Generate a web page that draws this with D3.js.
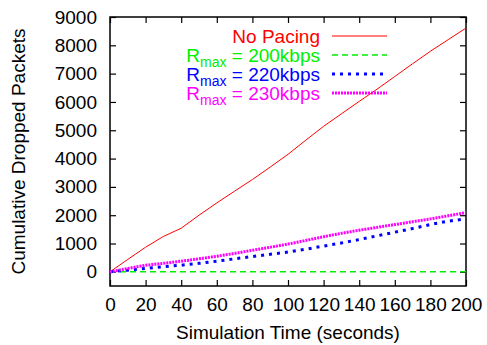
<!DOCTYPE html>
<html>
<head>
<meta charset="utf-8">
<script src="https://cdn.jsdelivr.net/npm/d3@7"></script>
<style>
  body { margin: 0; background: #fff; }
  text { font-family: "Liberation Sans", Arial, sans-serif; }
</style>
</head>
<body>
<svg id="drawing_region"></svg>
<script>
const times = [0, 10, 20, 30, 40, 50, 60, 70, 80, 90, 100, 110, 120, 130, 140, 150, 160, 170, 180, 190, 200];
const noPacing = [0, 440, 870, 1250, 1540, 2000, 2435, 2850, 3260, 3700, 4150, 4650, 5140, 5580, 6020, 6450, 6900, 7350, 7790, 8200, 8610];
const rmax200 = [0, 0, 0, 0, 0, 0, 0, 0, 0, 0, 0, 0, 0, 0, 0, 0, 0, 0, 0, 0, 0];
const rmax220 = [0, 60, 120, 180, 235, 300, 375, 460, 540, 620, 700, 800, 910, 1020, 1140, 1270, 1400, 1530, 1670, 1790, 1870];
const rmax230 = [0, 120, 235, 300, 375, 460, 550, 650, 760, 870, 980, 1110, 1240, 1360, 1470, 1570, 1670, 1770, 1870, 1980, 2090];
const xTicks = [0, 20, 40, 60, 80, 100, 120, 140, 160, 180, 200];
const yTicks = [0, 1000, 2000, 3000, 4000, 5000, 6000, 7000, 8000, 9000];

const series = [
    { label: "No Pacing", values: noPacing, color: "#ff0000", width: 1, dash: null },
    { label: "200kbps", values: rmax200, color: "#00ee00", width: 1.5, dash: "6,4" },
    { label: "220kbps", values: rmax220, color: "#0000ff", width: 3, dash: "3,5" },
    { label: "230kbps", values: rmax230, color: "#ff00ff", width: 3, dash: "2,1" }
];

const width = 487, height = 345;
const margin = { top: 17, right: 21, bottom: 59, left: 110 };
const innerW = width - margin.left - margin.right;
const innerH = height - margin.top - margin.bottom;

const svg = d3.select("#drawing_region").attr("width", width).attr("height", height);
const chart = svg.append("g").attr("transform", `translate(${margin.left},${margin.top})`);

const xscale = d3.scaleLinear().domain([0, 200]).range([0, innerW]);
const yscale = d3.scaleLinear().domain([-500, 9000]).range([innerH, 0]);

// axes with inward ticks, mirrored on top and right
const tick = 6;
chart.append("g").attr("transform", `translate(0,${innerH})`)
    .call(d3.axisBottom(xscale).tickValues(xTicks).tickFormat(d3.format("d")).tickSize(-tick).tickPadding(12).tickSizeOuter(0));
chart.append("g")
    .call(d3.axisTop(xscale).tickValues(xTicks).tickSize(-tick).tickFormat("").tickSizeOuter(0));
chart.append("g")
    .call(d3.axisLeft(yscale).tickValues(yTicks).tickFormat(d3.format("d")).tickSize(-tick).tickPadding(13).tickSizeOuter(0));
chart.append("g").attr("transform", `translate(${innerW},0)`)
    .call(d3.axisRight(yscale).tickValues(yTicks).tickSize(-tick).tickFormat("").tickSizeOuter(0));

chart.selectAll(".domain").remove();
chart.selectAll(".tick line").attr("stroke", "#000").attr("stroke-width", 1.2);
chart.selectAll(".tick text").attr("font-size", 19).attr("fill", "#000")
    .style("font-family", "'Liberation Sans', Arial, sans-serif");

chart.append("rect")
    .attr("width", innerW).attr("height", innerH)
    .attr("fill", "none").attr("stroke", "#000").attr("stroke-width", 1.5);

// lines
const line = d3.line().x((d, i) => xscale(times[i])).y(d => yscale(d));
series.forEach(s => {
    chart.append("path")
        .datum(s.values)
        .attr("d", line)
        .attr("fill", "none")
        .attr("stroke", s.color)
        .attr("stroke-width", s.width)
        .attr("stroke-dasharray", s.dash);
});

// legend
const legend = svg.append("g");
const rowY = [36, 55, 74, 93];
series.forEach((s, i) => {
    const t = legend.append("text")
        .attr("x", 320).attr("y", rowY[i] + 7)
        .attr("text-anchor", "end")
        .attr("font-size", 19)
        .attr("fill", s.color);
    if (i === 0) {
        t.text(s.label);
    } else {
        t.append("tspan").text("R");
        t.append("tspan").attr("font-size", 14).attr("dy", 5).text("max");
        t.append("tspan").attr("dy", -5).text(" = " + s.label);
    }
    legend.append("line")
        .attr("x1", 332).attr("x2", 387)
        .attr("y1", rowY[i]).attr("y2", rowY[i])
        .attr("stroke", s.color)
        .attr("stroke-width", s.width)
        .attr("stroke-dasharray", s.dash);
});

// axis titles
svg.append("text")
    .attr("x", margin.left + innerW / 2).attr("y", 339)
    .attr("text-anchor", "middle").attr("font-size", 19)
    .text("Simulation Time (seconds)");
svg.append("text")
    .attr("transform", `translate(25,${margin.top + innerH / 2}) rotate(-90)`)
    .attr("text-anchor", "middle").attr("font-size", 19)
    .text("Cumulative Dropped Packets");
</script>
</body>
</html>
